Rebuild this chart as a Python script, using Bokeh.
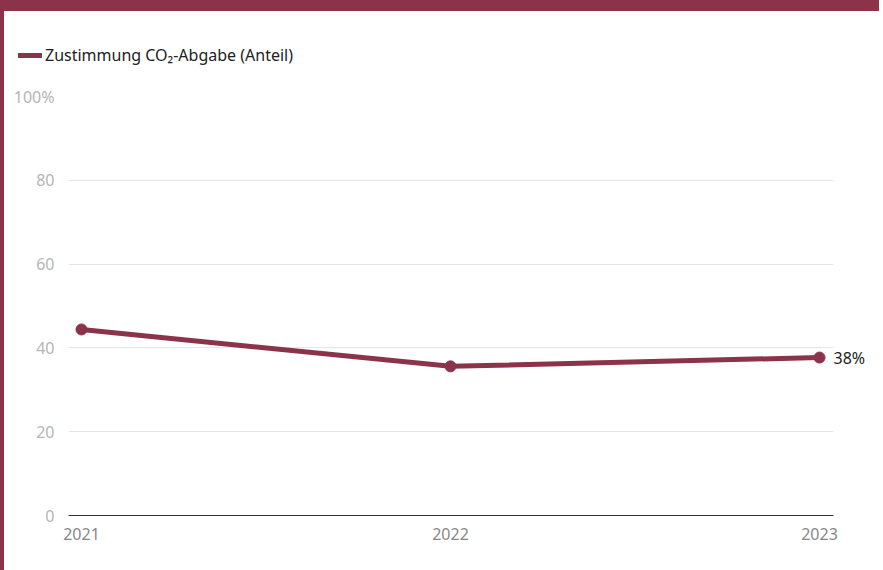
from bokeh.plotting import figure
from bokeh.layouts import column
from bokeh.models import Legend, LegendItem, BoxAnnotation, FixedTicker, Range1d, Label
from bokeh.embed import file_html
from bokeh.resources import INLINE

years = [2021, 2022, 2023]
share = [44.4, 35.6, 37.7]
y_ticks = [0, 20, 40, 60, 80, 100]
y_labels = {0: "0", 20: "20", 40: "40", 60: "60", 80: "80", 100: "100%"}
series_name = "Zustimmung CO₂-Abgabe (Anteil)"
end_label = "38%"

COL = "#8b3348"
FONT = "Noto Sans"

x_start, x_end, x_plot_end = 2020.9648, 2023.1734, 2023.0379

# ---- legend strip on top (series drawn out of view; only its legend shows) ----
top = figure(width=879, height=71, output_backend="svg", toolbar_location=None,
             x_axis_type=None, y_axis_type=None,
             x_range=Range1d(0, 1), y_range=Range1d(0, 1),
             min_border_left=0, min_border_right=0, min_border_top=0, min_border_bottom=0)
top.frame_align = False
top.styles = {"border-top": f"11px solid {COL}", "border-left": f"4px solid {COL}"}
top.grid.visible = False
top.outline_line_color = None
legend_line = top.line(years, share, line_color=COL, line_width=5, line_cap="round")
legend = Legend(items=[LegendItem(label=series_name, renderers=[legend_line])],
                location=(14, 16), padding=0, margin=0, spacing=0,
                glyph_width=24, glyph_height=18, label_standoff=3,
                label_text_font=FONT, label_text_font_size="16px", label_text_color="#222222",
                border_line_alpha=0, background_fill_alpha=0)
top.add_layout(legend, "center")

# ---- main chart ----
p = figure(width=879, height=499, output_backend="svg", toolbar_location=None,
           x_range=Range1d(x_start, x_end), y_range=Range1d(0, 100),
           min_border_left=64, min_border_right=0, min_border_top=25, min_border_bottom=55)
p.frame_align = False
p.styles = {"border-left": f"4px solid {COL}"}
p.outline_line_color = None
p.background_fill_color = "white"
p.border_fill_color = "white"

p.xgrid.grid_line_color = None
p.ygrid.grid_line_color = "#e6e6e6"
p.ygrid.grid_line_width = 1

p.yaxis.ticker = FixedTicker(ticks=y_ticks)
p.yaxis.major_label_overrides = y_labels
p.yaxis.axis_line_color = None
p.yaxis.major_tick_line_color = None
p.yaxis.minor_tick_line_color = None
p.yaxis.major_label_text_color = "#b5b5b5"
p.yaxis.major_label_text_font = FONT
p.yaxis.major_label_text_font_size = "16px"
p.yaxis.major_label_standoff = 8

p.xaxis.ticker = FixedTicker(ticks=years)
p.xaxis.bounds = (x_start, x_plot_end)
p.xaxis.axis_line_color = "#333333"
p.xaxis.axis_line_width = 1
p.xaxis.major_tick_line_color = None
p.xaxis.minor_tick_line_color = None
p.xaxis.major_label_text_color = "#888888"
p.xaxis.major_label_text_font = FONT
p.xaxis.major_label_text_font_size = "16px"
p.xaxis.major_label_standoff = 6

# blank the grid beyond the plotting area (space for the end label)
p.add_layout(BoxAnnotation(left=x_plot_end, fill_color="white", fill_alpha=1,
                           line_alpha=0, level="underlay"))

p.line(years, share, line_color=COL, line_width=5, line_cap="round", line_join="round")
p.scatter(years, share, size=11, fill_color=COL, line_color=COL)

p.add_layout(Label(x=years[-1], y=share[-1], text=end_label, x_offset=14, y_offset=0,
                   text_baseline="middle", text_align="left", text_font=FONT,
                   text_font_size="16px", text_color="#222222"))

layout = column(top, p, spacing=0)
open("out.html", "w").write(file_html(layout, INLINE))
